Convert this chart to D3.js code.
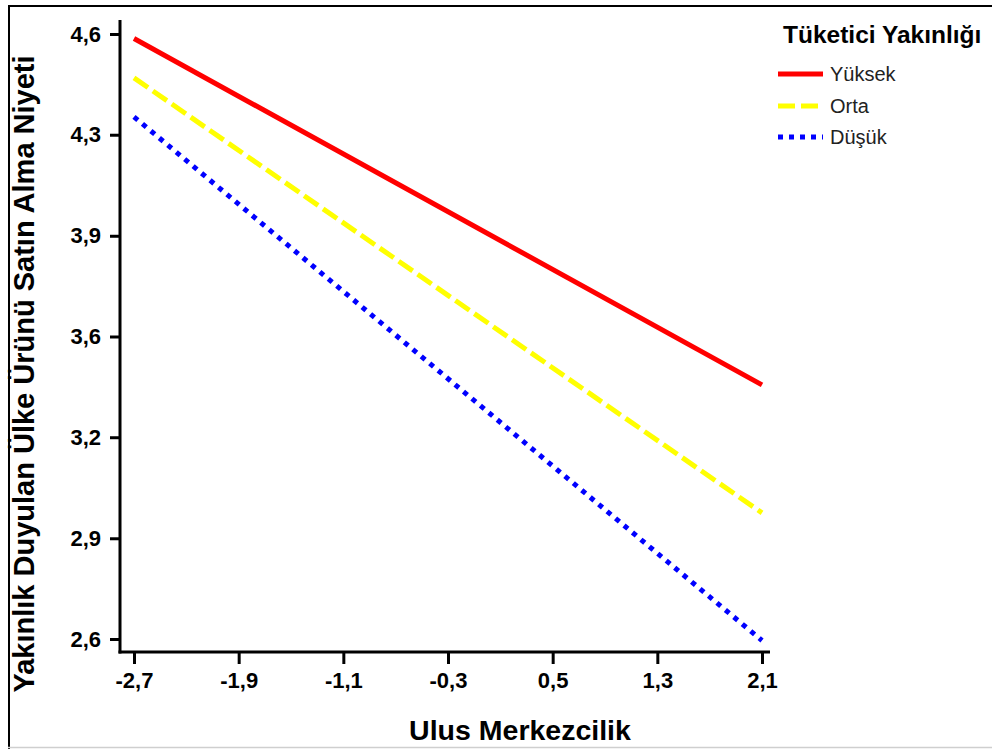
<!DOCTYPE html>
<html>
  <head>
    <title>Ulus Merkezcilik</title>
    <style>
      body { margin: 0; background: #fff; }
      text { font-family: "Liberation Sans", Arial, sans-serif; }
    </style>
  </head>
  <body>
    <script src="https://cdnjs.cloudflare.com/ajax/libs/d3/7.8.5/d3.min.js"></script>
    <script>
      // values
      let xTicks = [-2.7, -1.9, -1.1, -0.3, 0.5, 1.3, 2.1];
      let xTickLabels = ['-2,7', '-1,9', '-1,1', '-0,3', '0,5', '1,3', '2,1'];
      let yTicks = [4.6, 4.267, 3.933, 3.6, 3.267, 2.933, 2.6];
      let yTickLabels = ['4,6', '4,3', '3,9', '3,6', '3,2', '2,9', '2,6'];

      let seriesNames = ['Yüksek', 'Orta', 'Düşük'];
      let xValues = [-2.7, 2.1];
      let yuksek = [4.585, 3.44];
      let orta = [4.455, 3.017];
      let dusuk = [4.326, 2.595];

      let colors = ['#ff0000', '#ffff00', '#0000ff'];
      let dashes = [null, '17,6', '5,6'];
      let seriesValues = [yuksek, orta, dusuk];

      let svg = d3.select('body')
                  .append('svg')
                  .attr('width', 992)
                  .attr('height', 749);

      // frame
      svg.append('line').attr('x1', 8).attr('x2', 992).attr('y1', 6).attr('y2', 6)
         .attr('stroke', '#000').attr('stroke-width', 2);
      svg.append('line').attr('x1', 9).attr('x2', 9).attr('y1', 5).attr('y2', 749)
         .attr('stroke', '#000').attr('stroke-width', 2);
      svg.append('line').attr('x1', 8).attr('x2', 992).attr('y1', 747.5).attr('y2', 747.5)
         .attr('stroke', '#cfcfcf').attr('stroke-width', 1.5);

      let xScale = d3.scaleLinear().domain([-2.7, 2.1]).range([134, 762]);
      let yScale = d3.scaleLinear().domain([2.6, 4.6]).range([639, 34]);

      // y axis
      let yAxis = d3.axisLeft(yScale)
                    .tickValues(yTicks)
                    .tickSize(10)
                    .tickPadding(9)
                    .tickFormat((d, i) => yTickLabels[i]);
      let gy = svg.append('g').attr('transform', 'translate(120,0)').call(yAxis);
      gy.select('.domain').remove();
      gy.append('line').attr('x1', 0).attr('x2', 0).attr('y1', 20).attr('y2', 653.5)
        .attr('stroke', '#000').attr('stroke-width', 3);

      // x axis
      let xAxis = d3.axisBottom(xScale)
                    .tickValues(xTicks)
                    .tickSize(12)
                    .tickPadding(8)
                    .tickFormat((d, i) => xTickLabels[i]);
      let gx = svg.append('g').attr('transform', 'translate(0,652)').call(xAxis);
      gx.select('.domain').remove();
      gx.append('line').attr('x1', 118.5).attr('x2', 770).attr('y1', 0).attr('y2', 0)
        .attr('stroke', '#000').attr('stroke-width', 3);

      svg.selectAll('.tick line').attr('stroke', '#000').attr('stroke-width', 3);
      svg.selectAll('.tick text')
         .attr('fill', '#000')
         .style('font-family', '"Liberation Sans", Arial, sans-serif')
         .style('font-size', '22px')
         .style('font-weight', 'bold');

      // lines
      let line = d3.line()
                   .x((d, i) => xScale(xValues[i]))
                   .y((d) => yScale(d));

      seriesValues.forEach((vals, i) => {
        svg.append('path')
           .attr('d', line(vals))
           .attr('fill', 'none')
           .attr('stroke', colors[i])
           .attr('stroke-width', 5)
           .attr('stroke-dasharray', dashes[i]);
      });

      // axis titles
      svg.append('text')
         .attr('x', 520).attr('y', 740)
         .attr('text-anchor', 'middle')
         .style('font-size', '28.5px').style('font-weight', 'bold')
         .text('Ulus Merkezcilik');

      svg.append('text')
         .attr('transform', 'translate(34,374) rotate(-90)')
         .attr('text-anchor', 'middle')
         .style('font-size', '29px').style('font-weight', 'bold')
         .text('Yakınlık Duyulan Ülke Ürünü Satın Alma Niyeti');

      // legend
      svg.append('text')
         .attr('x', 783).attr('y', 43)
         .style('font-size', '24.5px').style('font-weight', 'bold')
         .text('Tüketici Yakınlığı');

      let legendY = [74, 106, 137];
      seriesNames.forEach((name, i) => {
        svg.append('line')
           .attr('x1', 778).attr('x2', 823)
           .attr('y1', legendY[i]).attr('y2', legendY[i])
           .attr('stroke', colors[i])
           .attr('stroke-width', 5)
           .attr('stroke-dasharray', dashes[i]);
        svg.append('text')
           .attr('x', 830).attr('y', legendY[i] + 7)
           .style('font-size', '20px')
           .attr('fill', '#222')
           .text(name);
      });
    </script>
  </body>
</html>
